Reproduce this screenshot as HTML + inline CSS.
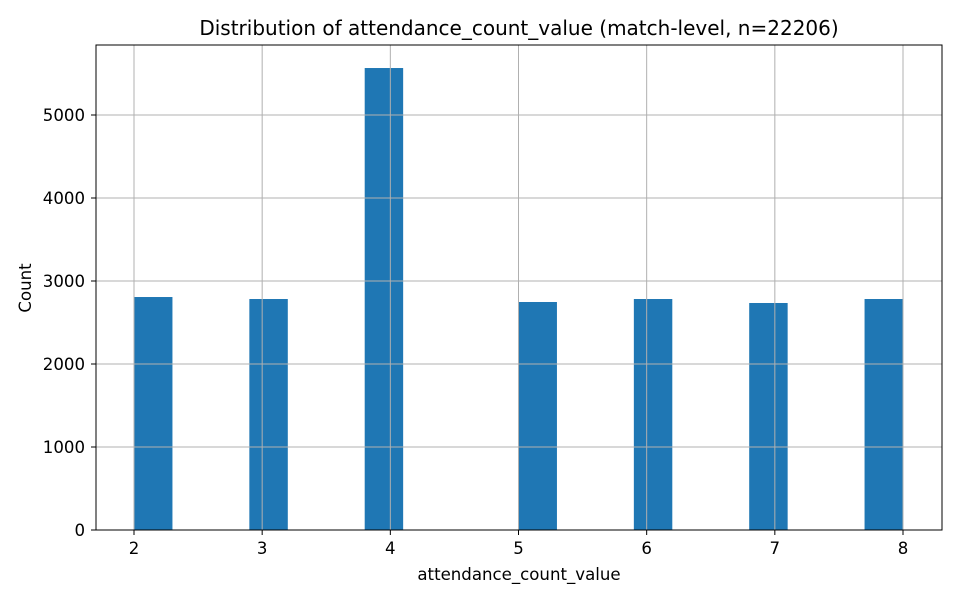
<!DOCTYPE html>
<html><head><meta charset="utf-8"><style>
body{margin:0;background:#fff}
text{font-family:"DejaVu Sans","Liberation Sans",sans-serif;fill:#000}
</style></head><body>
<svg id="chart" width="960" height="600" xmlns="http://www.w3.org/2000/svg">
<rect width="960" height="600" fill="#fff"/>
<text x="519" y="35" font-size="20" text-anchor="middle">Distribution of attendance_count_value (match-level, n=22206)</text>
<g id="bars"></g>
<g id="grid"></g>
<g id="axes"></g>
<text x="519" y="580" font-size="16.6" text-anchor="middle">attendance_count_value</text>
<text x="31" y="288" font-size="16.6" text-anchor="middle" transform="rotate(-90 31 288)">Count</text>
</svg>
<script>
const values = [2, 3, 4, 5, 6, 7, 8];
const counts = [2807, 2783, 5566, 2747, 2783, 2735, 2783];
const xTicks = [2, 3, 4, 5, 6, 7, 8];
const yTicks = [0, 1000, 2000, 3000, 4000, 5000];
const binMin = 2, binMax = 8, nBins = 20;

const L = 96, R = 942, T = 45, B = 530;
const xs = v => 134 + (v - 2) * (903 - 134) / 6;
const ys = c => B - c * (B - 115) / 5000;
const NS = "http://www.w3.org/2000/svg";
function mk(tag, attrs, parent){const e=document.createElementNS(NS,tag);for(const k in attrs)e.setAttribute(k,attrs[k]);parent.appendChild(e);return e;}
const bars = document.getElementById('bars'), grid = document.getElementById('grid'), axes = document.getElementById('axes');
const bw = (binMax - binMin) / nBins;
values.forEach((v, i) => {
  let b = Math.floor((v - binMin) / bw + 1e-9); if (b >= nBins) b = nBins - 1;
  const x0 = binMin + b * bw, x1 = x0 + bw;
  const r = mk('rect', {x: xs(x0), y: ys(counts[i]), width: xs(x1) - xs(x0), height: B - ys(counts[i]), fill: '#1f77b4'}, bars);
  
  
});
xTicks.forEach(t => {
  const x = xs(t);
  const g = mk('line', {x1: x, x2: x, y1: T, y2: B, stroke: '#b0b0b0', 'stroke-width': 1}, grid);
  
  
  mk('line', {x1: x, x2: x, y1: B, y2: B + 5, stroke: '#000', 'stroke-width': 1}, axes);
  const tx = mk('text', {x: x, y: B + 24, 'font-size': 16.6, 'text-anchor': 'middle'}, axes);
  tx.textContent = t;
  
  
});
yTicks.forEach(t => {
  const y = ys(t);
  const g = mk('line', {x1: L, x2: R, y1: y, y2: y, stroke: '#b0b0b0', 'stroke-width': 1}, grid);
  
  
  mk('line', {x1: L - 5, x2: L, y1: y, y2: y, stroke: '#000', 'stroke-width': 1}, axes);
  const tx = mk('text', {x: L - 11, y: y + 6, 'font-size': 16.6, 'text-anchor': 'end'}, axes);
  tx.textContent = t;
  
  
});
const f = mk('rect', {x: L, y: T, width: R - L, height: B - T, fill: 'none', stroke: '#000', 'stroke-width': 1}, axes);


</script>
</body></html>
